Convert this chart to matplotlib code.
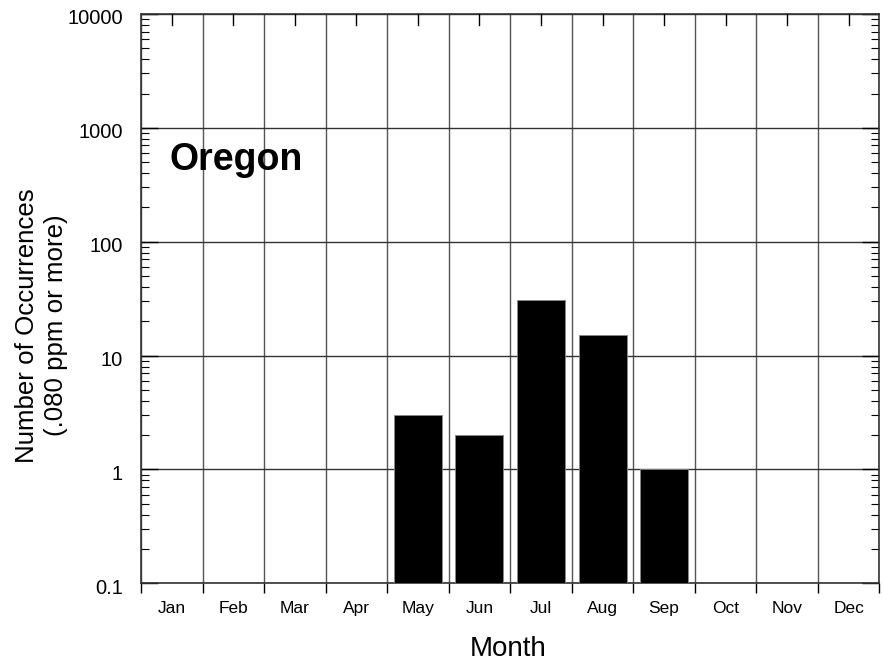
import numpy as np
import matplotlib.pyplot as plt
import matplotlib.transforms as mtransforms
from matplotlib.ticker import FixedLocator, LogLocator, NullFormatter

plt.rcParams['font.family'] = ['Liberation Sans', 'DejaVu Sans']

# Oregon exceedance counts by month
months = ['Jan', 'Feb', 'Mar', 'Apr', 'May', 'Jun', 'Jul', 'Aug', 'Sep', 'Oct', 'Nov', 'Dec']
counts = [0, 0, 0, 0, 3, 2, 31, 15, 1, 0, 0, 0]
ytick_vals = [0.1, 1, 10, 100, 1000, 10000]
ytick_labels = ['0.1', '1', '10', '100', '1000', '10000']

fig = plt.figure(figsize=(8.82, 6.65), dpi=100)
ax = fig.add_axes([0.16, 0.123, 0.837, 0.856])

x = np.arange(len(months))
cnt = np.array(counts, dtype=float)
mask = cnt > 0
ax.bar(x[mask], cnt[mask], width=0.78, color='black', edgecolor='#888888', linewidth=0.6, zorder=3)

ax.set_yscale('log')
ax.set_ylim(0.1, 10000)
ax.set_xlim(-0.5, len(months) - 0.5)

# y axis: decades with gridlines, minor ticks inside on both sides
ax.set_yticks(ytick_vals)
ax.set_yticklabels(ytick_labels, fontsize=14.5)
ax.yaxis.set_minor_locator(LogLocator(base=10, subs=np.arange(2, 10)))
ax.yaxis.set_minor_formatter(NullFormatter())
ax.tick_params(axis='y', which='major', direction='in', length=12, width=1, right=True, pad=13)
ax.tick_params(axis='y', which='minor', direction='in', length=6, width=0.8, right=True)
shift = mtransforms.ScaledTranslation(0, -3 / 100, fig.dpi_scale_trans)
for lbl in ax.get_yticklabels():
    lbl.set_transform(lbl.get_transform() + shift)

# x axis: labels at month centres, ticks and grid at month boundaries
ax.set_xticks(x)
ax.set_xticklabels(months, fontsize=12.5)
ax.tick_params(axis='x', which='major', length=0, pad=12.5)
bounds = np.arange(len(months) + 1) - 0.5
ax.xaxis.set_minor_locator(FixedLocator(bounds))
ax.tick_params(axis='x', which='minor', direction='out', length=7, width=1, top=False)
ax.grid(True, axis='x', which='minor', color='#555555', linewidth=1, zorder=1)
ax.grid(True, axis='y', which='major', color='#333333', linewidth=1, zorder=1)

# small inward ticks at month centres along the top
for xi in x:
    ax.plot([xi, xi], [10000 / 10 ** 0.1, 10000], color='black', linewidth=1, clip_on=False, zorder=4)

for s in ax.spines.values():
    s.set_color('#333333')
    s.set_linewidth(1.2)

ax.set_xlabel('Month', fontsize=20)
ax.xaxis.set_label_coords(0.497, -0.093)
ax.set_ylabel('Number of Occurrences\n(.080 ppm or more)', fontsize=18.6, linespacing=1.25)
ax.yaxis.set_label_coords(-0.099, 0.4525)

ax.text(0.039, 0.743, 'Oregon', transform=ax.transAxes, fontsize=27, fontweight='bold',
        ha='left', va='center')

fig.savefig('out.png', dpi=100)
